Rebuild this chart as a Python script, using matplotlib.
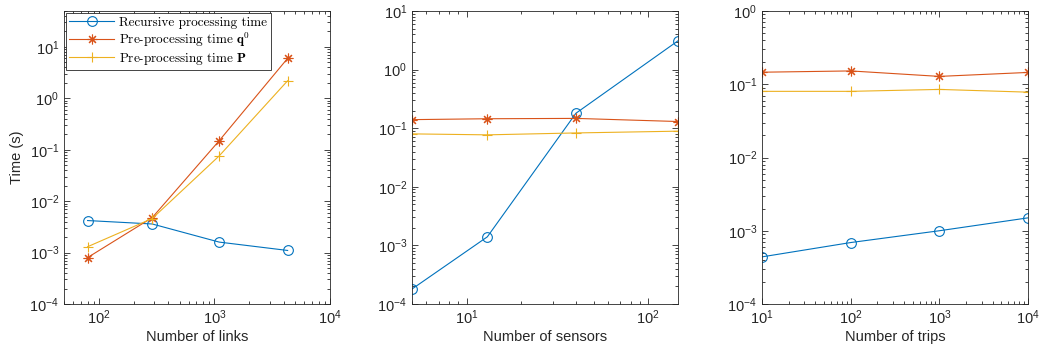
import numpy as np
import matplotlib
matplotlib.use("Agg")
from matplotlib import pyplot as plt
from matplotlib.ticker import LogLocator, NullFormatter

plt.rcParams["font.family"] = ["Liberation Sans", "DejaVu Sans"]
plt.rcParams["mathtext.fontset"] = "custom"
plt.rcParams["mathtext.rm"] = "Liberation Sans"
plt.rcParams["mathtext.bf"] = "cmb10"
plt.rcParams["mathtext.sf"] = "cmr10"
plt.rcParams["axes.unicode_minus"] = False

# data
links = [80, 290, 1100, 4300]
links_rec = [0.0042, 0.0036, 0.0016, 0.0011]
links_q0 = [0.0008, 0.0048, 0.15, 6.0]
links_P = [0.0013, 0.0046, 0.076, 2.2]

sensors = [5, 13, 40, 146]
sensors_rec = [1.8e-4, 1.4e-3, 0.18, 3.1]
sensors_q0 = [0.14, 0.145, 0.147, 0.13]
sensors_P = [0.080, 0.077, 0.083, 0.089]

trips = [10, 100, 1000, 10000]
trips_rec = [4.4e-4, 6.9e-4, 1.0e-3, 1.5e-3]
trips_q0 = [0.146, 0.152, 0.128, 0.145]
trips_P = [0.080, 0.080, 0.085, 0.078]

labels = ["Recursive processing time",
          r"Pre-processing time $\mathbf{q}^{\mathsf{0}}$",
          r"Pre-processing time $\mathbf{P}$"]
colors = ["#0072BD", "#D95319", "#EDB120"]
markers = ["o", (8, 2, 0), "+"]

panels = [
    (links, [links_rec, links_q0, links_P], "Number of links", (50, 1e4), (1e-4, 50)),
    (sensors, [sensors_rec, sensors_q0, sensors_P], "Number of sensors", (5, 146), (1e-4, 10)),
    (trips, [trips_rec, trips_q0, trips_P], "Number of trips", (10, 1e4), (1e-4, 1)),
]
lefts = [64 / 1041, 412 / 1041, 762 / 1041]

fig = plt.figure(figsize=(10.41, 3.63), dpi=100)
axes = []
for i, (x, ys, xlabel, xlim, ylim) in enumerate(panels):
    ax = fig.add_axes([lefts[i], 1 - 304 / 363, 266 / 1041, 293 / 363])
    for y, c, m, lab in zip(ys, colors, markers, labels):
        mfc = "none" if m == "o" else c
        ax.plot(x, y, color=c, marker=m, markersize=7, markerfacecolor=mfc,
                markeredgewidth=0.8, linewidth=0.8, label=lab)
    ax.set_xscale("log")
    ax.set_yscale("log")
    ax.set_xlim(xlim)
    ax.set_ylim(ylim)
    ax.xaxis.set_major_locator(LogLocator(base=10, numticks=10))
    ax.yaxis.set_major_locator(LogLocator(base=10, numticks=10))
    ax.xaxis.set_minor_locator(LogLocator(base=10, subs=np.arange(2, 10), numticks=20))
    ax.yaxis.set_minor_locator(LogLocator(base=10, subs=np.arange(2, 10), numticks=20))
    ax.xaxis.set_minor_formatter(NullFormatter())
    ax.yaxis.set_minor_formatter(NullFormatter())
    ax.tick_params(which="both", direction="in", top=True, right=True,
                   colors="#262626", labelsize=10.5, width=0.6)
    ax.tick_params(which="major", length=4)
    ax.tick_params(which="minor", length=2)
    for s in ax.spines.values():
        s.set_color("#262626")
        s.set_linewidth(0.6)
    ax.set_xlabel(xlabel, fontsize=10.5, color="#262626", labelpad=2)
    axes.append(ax)

axes[0].set_ylabel("Time (s)", fontsize=10.5, color="#262626")
leg = axes[0].legend(loc="upper left", bbox_to_anchor=(0, 1), borderaxespad=0.15,
                     prop={"family": "cmr10", "size": 9.5}, fancybox=False,
                     framealpha=1, edgecolor="#262626", handlelength=3.4,
                     borderpad=0.25, labelspacing=0.15, handletextpad=0.4)
leg.get_frame().set_linewidth(0.6)

fig.savefig("out.png", dpi=100)
